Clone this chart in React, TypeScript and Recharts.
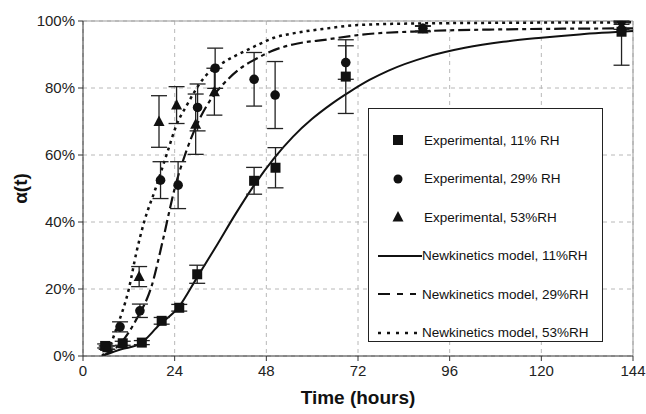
import React from 'react';
import {
  ComposedChart,
  Line,
  Scatter,
  ErrorBar,
  XAxis,
  YAxis,
  CartesianGrid,
  ReferenceLine,
  Legend,
} from 'recharts';

// Experimental points (hours, % converted, ± error)
const EXP11_H = [5.8, 10.4, 15.4, 20.6, 25.2, 29.9, 44.8, 50.4, 68.8, 141];
const EXP11_V = [3, 3.8, 4, 10.5, 14.4, 24.4, 52.3, 56.2, 83.4, 96.8];
const EXP11_E: (number | number[])[] = [0.6, 0.6, 0.6, 1, 1, 2.7, 4, 6, 11, [10, 3]];

const EXP29_H = [6.2, 9.7, 14.9, 20.3, 24.9, 30, 34.6, 44.8, 50.3, 68.8, 89, 141];
const EXP29_V = [2.5, 8.7, 13.5, 52.5, 51, 74.2, 85.9, 82.6, 77.9, 87.6, 97.8, 100];
const EXP29_E: (number | number[])[] = [0.5, 1.5, 2, 5.5, 7, 7, 6, 8, 10, 5, 0.8, [1, 0]];

const EXP53_H = [6.4, 14.7, 19.9, 24.5, 29.5, 34.4, 89, 141];
const EXP53_V = [2.5, 23.7, 70, 74.9, 69.2, 78.9, 97.6, 98.5];
const EXP53_E: (number | number[])[] = [0.5, 3, 7.7, 5.5, 9, 7, 0.8, 1];

// Model curves, read at fixed hours
const M11_H = [5, 10, 15, 20, 25, 30, 35, 40, 45, 50, 55, 60, 65, 70, 75, 80, 90, 100, 110, 120, 130, 144];
const M11_V = [0, 2, 3.7, 9.3, 14.5, 23.7, 33, 42.5, 51.3, 59, 65.5, 70.8, 75.2, 79, 82.4, 85.2, 89.3, 92, 93.8, 95, 96, 97];

const M29_H = [5, 10, 14, 18, 21, 24, 27, 30, 34, 37, 42, 45, 50, 55, 64, 72, 90, 110, 144];
const M29_V = [0, 4, 11, 21, 35, 50, 61, 69.5, 77.5, 81.5, 86.5, 88.5, 91.3, 93, 94.5, 95.8, 97, 97.5, 97.8];

const M53_H = [5, 7, 9, 12, 14, 16, 19, 22, 24.5, 27, 32, 37, 42, 46, 50, 55, 64, 72, 90, 144];
const M53_V = [0, 3, 9, 20, 31, 40, 50, 60.5, 69, 74.5, 83.5, 87.8, 90.8, 93, 95, 96.3, 97.8, 98.8, 99.3, 99.6];

const X_TICKS = [0, 24, 48, 72, 96, 120, 144];
const Y_TICKS = [0, 20, 40, 60, 80, 100];

const pts = (h: number[], v: number[], e?: (number | number[])[]) =>
  h.map((x, i) => ({ h: x, v: v[i], e: e ? e[i] : 0 }));

const INK = '#111';
const FONT = '"Liberation Sans", Arial, sans-serif';
const TICK = { fontFamily: FONT, fontSize: 15, fill: '#222' };

const DASH29 = '12 4 4 4';
const DASH53 = '3 4';

const Square = ({ cx, cy }: any) => <rect x={cx - 5} y={cy - 5} width={10} height={10} fill={INK} />;
const Dot = ({ cx, cy }: any) => <circle cx={cx} cy={cy} r={4.8} fill={INK} />;
const Tri = ({ cx, cy }: any) => (
  <polygon points={`${cx},${cy - 6} ${cx + 5.5},${cy + 4.5} ${cx - 5.5},${cy + 4.5}`} fill={INK} />
);

const LEGEND_ROWS = [
  { kind: 'square', label: 'Experimental, 11% RH' },
  { kind: 'circle', label: 'Experimental, 29% RH' },
  { kind: 'triangle', label: 'Experimental, 53%RH' },
  { kind: 'solid', label: 'Newkinetics model, 11%RH' },
  { kind: 'dash', label: 'Newkinetics model, 29%RH' },
  { kind: 'dot', label: 'Newkinetics model, 53%RH' },
];

function LegendIcon({ kind }: { kind: string }) {
  return (
    <svg width={44} height={14} style={{ display: 'block' }}>
      {kind === 'square' && <rect x={15} y={2} width={10} height={10} fill={INK} />}
      {kind === 'circle' && <circle cx={20} cy={7} r={4.5} fill={INK} />}
      {kind === 'triangle' && <polygon points="20,1 25.5,11.5 14.5,11.5" fill={INK} />}
      {kind === 'solid' && <line x1={0} y1={7} x2={44} y2={7} stroke={INK} strokeWidth={2} />}
      {kind === 'dash' && (
        <line x1={0} y1={7} x2={44} y2={7} stroke={INK} strokeWidth={2.2} strokeDasharray="12 7 6 7 6 7" />
      )}
      {kind === 'dot' && (
        <line x1={0} y1={7} x2={44} y2={7} stroke={INK} strokeWidth={2.5} strokeDasharray="3 6" />
      )}
    </svg>
  );
}

function LegendBox() {
  return (
    <div
      style={{
        width: 235,
        height: 234,
        boxSizing: 'border-box',
        border: '1.5px solid #222',
        background: '#fff',
        paddingTop: 12,
        fontFamily: FONT,
        fontSize: 13.5,
        color: '#111',
      }}
    >
      {LEGEND_ROWS.map((r) => (
        <div key={r.label} style={{ display: 'flex', alignItems: 'center', height: 38.5, paddingLeft: 9 }}>
          <LegendIcon kind={r.kind} />
          <span style={{ marginLeft: r.kind === 'square' || r.kind === 'circle' || r.kind === 'triangle' ? 2 : 0 }}>
            {r.label}
          </span>
        </div>
      ))}
    </div>
  );
}

export default function App() {
  return (
    <div style={{ position: 'absolute', left: 0, top: 0, width: 646, height: 414, background: '#fff' }}>
      <ComposedChart width={646} height={414} margin={{ top: 21, right: 13, bottom: 0, left: 0 }}>
        <CartesianGrid stroke="#b8b8b8" strokeDasharray="4 4" />
        <XAxis
          dataKey="h"
          type="number"
          domain={[0, 144]}
          allowDataOverflow
          ticks={X_TICKS}
          height={58}
          tick={TICK}
          tickSize={5}
          tickMargin={4}
          axisLine={{ stroke: '#333' }}
          tickLine={{ stroke: '#333' }}
          label={({ viewBox }: any) => (
            <text
              x={viewBox.x + viewBox.width / 2}
              y={viewBox.y + 48}
              textAnchor="middle"
              fontFamily={FONT}
              fontWeight="bold"
              fontSize={19}
              fill="#111"
            >
              Time (hours)
            </text>
          )}
        />
        <YAxis
          type="number"
          domain={[0, 100]}
          allowDataOverflow
          ticks={Y_TICKS}
          width={83}
          tick={TICK}
          tickSize={5}
          tickMargin={3}
          tickFormatter={(v) => `${v}%`}
          axisLine={{ stroke: '#333' }}
          tickLine={{ stroke: '#333' }}
          label={({ viewBox }: any) => {
            const x = viewBox.x + 20;
            const y = viewBox.y + viewBox.height / 2;
            return (
              <text
                x={x}
                y={y}
                transform={`rotate(-90 ${x} ${y})`}
                textAnchor="middle"
                dominantBaseline="central"
                fontFamily={FONT}
                fontWeight="bold"
                fontSize={19}
                fill="#111"
              >
                α(t)
              </text>
            );
          }}
        />
        <ReferenceLine y={100} stroke="#999" strokeWidth={1} />
        <ReferenceLine x={144} stroke="#999" strokeWidth={1} />

        <Line data={pts(M11_H, M11_V)} dataKey="v" type="monotone" stroke={INK} strokeWidth={2} dot={false} isAnimationActive={false} />
        <Line data={pts(M29_H, M29_V)} dataKey="v" type="monotone" stroke={INK} strokeWidth={2.2} strokeDasharray={DASH29} dot={false} isAnimationActive={false} />
        <Line data={pts(M53_H, M53_V)} dataKey="v" type="monotone" stroke={INK} strokeWidth={2.5} strokeDasharray={DASH53} dot={false} isAnimationActive={false} />

        <Scatter data={pts(EXP11_H, EXP11_V, EXP11_E)} dataKey="v" shape={Square} isAnimationActive={false}>
          <ErrorBar dataKey="e" direction="y" width={8} stroke="#222" strokeWidth={1.3} />
        </Scatter>
        <Scatter data={pts(EXP29_H, EXP29_V, EXP29_E)} dataKey="v" shape={Dot} isAnimationActive={false}>
          <ErrorBar dataKey="e" direction="y" width={8} stroke="#222" strokeWidth={1.3} />
        </Scatter>
        <Scatter data={pts(EXP53_H, EXP53_V, EXP53_E)} dataKey="v" shape={Tri} isAnimationActive={false}>
          <ErrorBar dataKey="e" direction="y" width={8} stroke="#222" strokeWidth={1.3} />
        </Scatter>

        <Legend
          layout="horizontal"
          verticalAlign="middle"
          align="center"
          wrapperStyle={{ left: 368, top: 108, width: 235, height: 234 }}
          content={() => <LegendBox />}
        />
      </ComposedChart>
    </div>
  );
}
